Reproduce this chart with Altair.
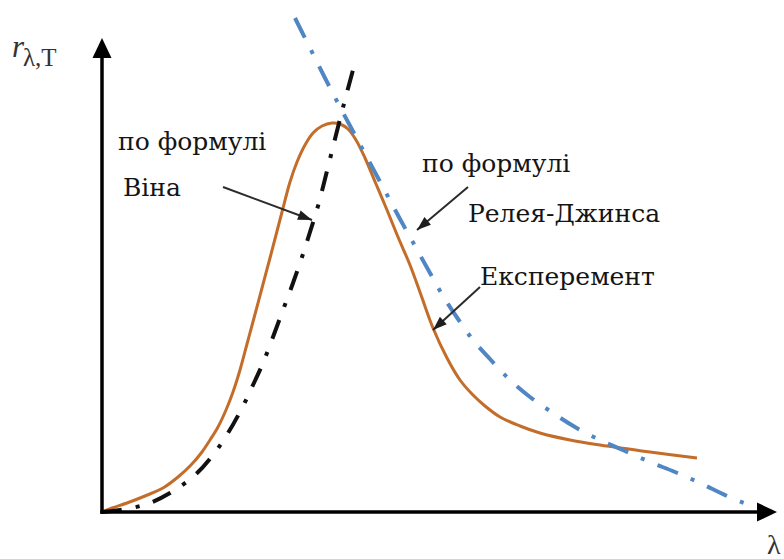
import math
import altair as alt
import pandas as pd

# ---- curves r(λ,T) in arbitrary units ----
# experimental spectrum
exp_lam = [0.00, 0.20, 0.50, 0.86, 1.22, 1.52, 1.78, 2.00, 2.16, 2.32, 2.48, 2.62, 2.76,
           2.90, 3.04, 3.20, 3.36, 3.60, 3.76, 3.90, 4.06, 4.22, 4.40, 4.60, 4.76, 4.92,
           5.08, 5.26, 5.48, 5.70, 5.92, 6.16, 6.38, 6.62, 6.90, 7.16, 7.40, 7.66, 7.96,
           8.36, 8.76, 9.36, 9.96, 10.96, 11.90]
exp_r = [0.00, 0.08, 0.18, 0.32, 0.48, 0.70, 0.94, 1.20, 1.44, 1.70, 2.04, 2.40, 2.84,
         3.36, 3.88, 4.48, 5.08, 6.00, 6.60, 7.00, 7.34, 7.58, 7.72, 7.78, 7.76, 7.66,
         7.44, 7.08, 6.56, 6.04, 5.50, 4.94, 4.34, 3.68, 3.08, 2.64, 2.36, 2.12, 1.90,
         1.72, 1.58, 1.44, 1.34, 1.20, 1.08]

# Wien's formula
wien_lam = [0.00, 0.36, 0.90, 1.36, 1.86, 2.22, 2.52, 2.80, 3.02, 3.22, 3.42, 3.62, 3.82,
            4.00, 4.16, 4.32, 4.46, 4.60, 4.74, 4.88, 5.02]
wien_r = [0.00, 0.04, 0.16, 0.38, 0.74, 1.14, 1.58, 2.08, 2.54, 2.98, 3.50, 4.04, 4.58,
          5.10, 5.60, 6.12, 6.66, 7.22, 7.78, 8.32, 8.84]

# Rayleigh-Jeans formula
rj_lam = [3.86, 4.16, 4.46, 4.76, 5.06, 5.36, 5.66, 5.96, 6.26, 6.56, 6.82, 7.12, 7.42,
          7.76, 8.16, 8.56, 9.02, 9.46, 9.96, 10.46, 10.96, 11.46, 11.96, 12.50, 13.00]
rj_r = [9.88, 9.28, 8.68, 8.10, 7.54, 6.98, 6.42, 5.86, 5.32, 4.78, 4.32, 3.86, 3.44,
        3.06, 2.64, 2.30, 1.98, 1.70, 1.44, 1.22, 1.00, 0.80, 0.58, 0.32, 0.12]

# ---- annotation texts and pointer arrows ----
label_text = ["по формулі", "Віна", "по формулі", "Релея-Джинса", "Експеремент"]
label_lam = [0.32, 0.42, 6.40, 7.32, 7.56]
label_r = [7.24, 6.32, 6.80, 5.80, 4.54]

arrow_lam0 = [2.42, 7.32, 7.56]
arrow_r0 = [6.50, 6.50, 4.50]
arrow_lam1 = [4.20, 6.30, 6.62]
arrow_r1 = [5.84, 5.64, 3.64]

# coordinate axes (with arrow tips)
axis_x_end = 13.30
axis_y_end = 9.24
axis_x_tip = 13.50
axis_y_tip = 9.48

X_DOM = [-2.04, 13.64]
Y_DOM = [-0.94, 10.24]
W, H = 784, 559

xs = alt.Scale(domain=X_DOM, nice=False, zero=False)
ys = alt.Scale(domain=Y_DOM, nice=False, zero=False)


def X(field):
    return alt.X(field, type="quantitative", scale=xs, axis=None)


def Y(field):
    return alt.Y(field, type="quantitative", scale=ys, axis=None)


def heading(dx, dy):
    # clockwise angle from "up" for a pointer travelling along (dx, dy) in data units
    return math.degrees(math.atan2(dx, dy)) % 360


exp_df = pd.DataFrame({"lam": exp_lam, "r": exp_r})
wien_df = pd.DataFrame({"lam": wien_lam, "r": wien_r})
rj_df = pd.DataFrame({"lam": rj_lam, "r": rj_r})

labels_df = pd.DataFrame({"t": label_text, "lam": label_lam, "r": label_r})

arrows_df = pd.DataFrame({
    "lam": arrow_lam0, "r": arrow_r0, "lam2": arrow_lam1, "r2": arrow_r1,
})
arrows_df["ang"] = [heading(a1 - a0, b1 - b0) for a0, b0, a1, b1 in
                    zip(arrow_lam0, arrow_r0, arrow_lam1, arrow_r1)]

axes_df = pd.DataFrame({
    "lam": [0.0, 0.0], "r": [0.0, 0.0],
    "lam2": [axis_x_end, 0.0], "r2": [0.0, axis_y_end],
})
axis_tips_df = pd.DataFrame({
    "lam": [axis_x_tip, 0.0], "r": [0.0, axis_y_tip], "ang": [90, 0],
})

AXIS_HEAD = "M0,0L-0.95,2L0.95,2Z"
PTR_HEAD = "M0,0L-0.72,2L0.72,2Z"
SERIF = "Liberation Serif, Tinos, Times New Roman, serif"
SERIF_CYR = "DejaVu Serif, Liberation Serif, serif"

axes = alt.Chart(axes_df).mark_rule(color="black", strokeWidth=3.5, strokeCap="square").encode(
    x=X("lam"), y=Y("r"), x2="lam2", y2="r2")
axis_heads = alt.Chart(axis_tips_df).mark_point(
    shape=AXIS_HEAD, filled=True, color="black", opacity=1, size=400, strokeWidth=0
).encode(x=X("lam"), y=Y("r"), angle=alt.Angle("ang:Q", scale=None))

exp_line = alt.Chart(exp_df).mark_line(
    color="#c46d2b", strokeWidth=3, interpolate="catmull-rom"
).encode(x=X("lam"), y=Y("r"))

wien_line = alt.Chart(wien_df).mark_line(
    color="#111111", strokeWidth=4, strokeDash=[20, 14, 4, 14], interpolate="catmull-rom"
).encode(x=X("lam"), y=Y("r"))

rj_line = alt.Chart(rj_df).mark_line(
    color="#4f86c3", strokeWidth=4, strokeDash=[22, 14, 4, 14], interpolate="catmull-rom"
).encode(x=X("lam"), y=Y("r"))

pointers = alt.Chart(arrows_df).mark_rule(color="#2b2b2b", strokeWidth=2).encode(
    x=X("lam"), y=Y("r"), x2="lam2", y2="r2")
pointer_heads = alt.Chart(arrows_df).mark_point(
    shape=PTR_HEAD, filled=True, color="#1e1e1e", opacity=1, size=196, strokeWidth=0
).encode(x=X("lam2"), y=Y("r2"), angle=alt.Angle("ang:Q", scale=None))

labels = alt.Chart(labels_df).mark_text(
    font=SERIF_CYR, fontSize=25, align="left", baseline="alphabetic", color="#141414"
).encode(x=X("lam"), y=Y("r"), text="t:N")

ylab_r = alt.Chart(pd.DataFrame({"lam": [-1.80], "r": [9.10], "t": ["r"]})).mark_text(
    font=SERIF, fontSize=31, fontStyle="italic", align="left", baseline="alphabetic",
    color="#333333"
).encode(x=X("lam"), y=Y("r"), text="t:N")
ylab_sub = alt.Chart(pd.DataFrame({"lam": [-1.58], "r": [8.92], "t": ["λ,T"]})).mark_text(
    font=SERIF, fontSize=25, align="left", baseline="alphabetic", color="#333333"
).encode(x=X("lam"), y=Y("r"), text="t:N")
xlab = alt.Chart(pd.DataFrame({"lam": [13.30], "r": [-0.84], "t": ["λ"]})).mark_text(
    font=SERIF, fontSize=28, align="left", baseline="alphabetic", color="#333333"
).encode(x=X("lam"), y=Y("r"), text="t:N")

chart = alt.layer(
    exp_line, wien_line, rj_line, axes, axis_heads, pointers, pointer_heads,
    labels, ylab_r, ylab_sub, xlab,
).properties(
    width=W, height=H, padding=0, autosize="none", background="white"
).configure_view(stroke=None)

chart.save("out.html", embed_options={"renderer": "svg", "actions": False})
